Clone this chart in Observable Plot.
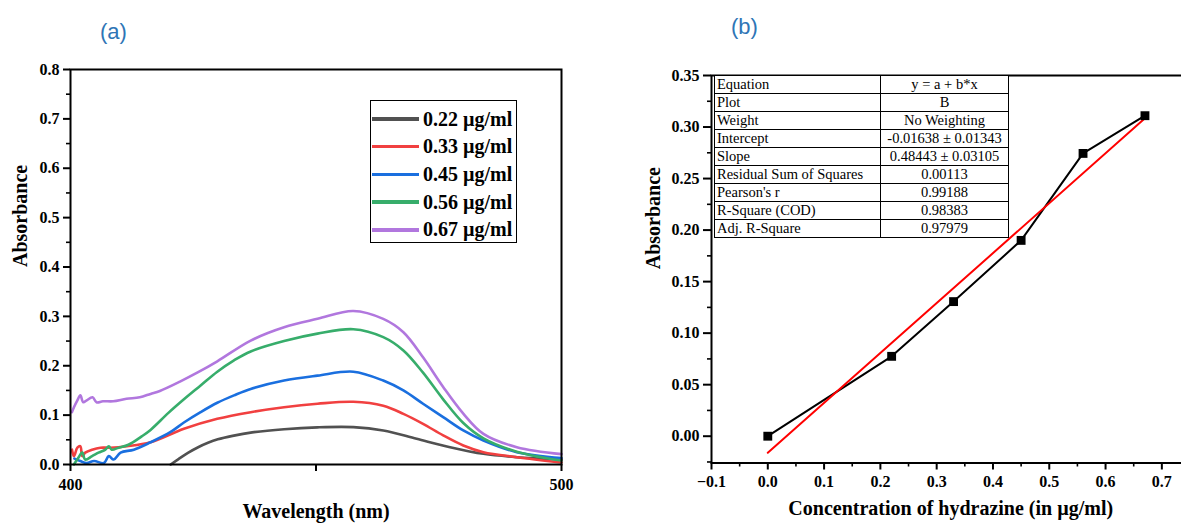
<!DOCTYPE html>
<html>
<head>
<meta charset="utf-8">
<script src="https://cdn.jsdelivr.net/npm/d3@7"></script>
<script src="https://cdn.jsdelivr.net/npm/@observablehq/plot@0.6"></script>
<style>
  html, body { margin: 0; padding: 0; background: #fff; }
  #wrap { position: relative; width: 1181px; height: 527px; overflow: hidden; background: #fff; }
  .plot { position: absolute; top: 0; }
  .plot text { font-family: "Liberation Serif", "Times New Roman", serif; }
  .tag { position: absolute; font-family: "Liberation Sans", "Open Sans", sans-serif; font-size: 22px; color: #2E75B6; line-height: 1; }
  #legend { position: absolute; left: 370px; top: 100px; width: 147px; height: 143px; border: 1.5px solid #000; box-sizing: border-box; background: #fff; }
  .lrow { position: absolute; left: 1px; height: 24px; display: flex; align-items: center; }
  .lline { width: 47px; height: 3.5px; margin-right: 4px; }
  .ltext { font-family: "Liberation Serif", serif; font-weight: bold; font-size: 20px; white-space: nowrap; }
  #fit { position: absolute; left: 714px; top: 75px; border-collapse: collapse; font-family: "Liberation Serif", serif; font-size: 14.5px; background: #fff; }
  #fit td { border: 1px solid #000; height: 17px; line-height: 15px; padding: 0 2px; white-space: nowrap; }
  #fit td.k { width: 161px; text-align: left; }
  #fit td.v { width: 123px; text-align: center; }
</style>
</head>
<body>
<div id="wrap"></div>
<script>
// ---------- panel (a): UV-Vis spectra ----------
const seriesLabels = ["0.22 µg/ml", "0.33 µg/ml", "0.45 µg/ml", "0.56 µg/ml", "0.67 µg/ml"];
const seriesColors = ["#515151", "#F14040", "#1A6FDF", "#37AD6B", "#B177DE"];

const grayWl  = [420.4, 422.0, 424.0, 426.0, 428.0, 430.0, 433.0, 437.0, 443.5, 450.3, 457.6, 463.7, 470.5, 477.3, 484.1, 490.9, 500];
const grayAbs = [0.000, 0.011, 0.024, 0.035, 0.044, 0.051, 0.058, 0.065, 0.0715, 0.0752, 0.0756, 0.0689, 0.052, 0.0351, 0.0216, 0.0148, 0.010];

const redWl  = [400.3, 400.7, 401.4, 402.0, 402.4, 403.0, 404.4, 406.1, 408.1, 411.5, 416.3, 423.1, 429.9, 436.7, 443.5, 450.3, 457.6, 463.7, 467.8, 471.8, 475.9, 480.0, 484.1, 490.9, 500];
const redAbs = [0.030, 0.017, 0.034, 0.037, 0.017, 0.024, 0.030, 0.034, 0.034, 0.037, 0.045, 0.0722, 0.0925, 0.106, 0.116, 0.123, 0.127, 0.119, 0.1026, 0.0824, 0.059, 0.0385, 0.025, 0.0148, 0.004];

const blueWl  = [400.8, 402.0, 403.3, 404.8, 406.8, 407.8, 408.8, 410.2, 412.9, 416.3, 420.4, 423.1, 426.5, 429.9, 433.3, 436.7, 443.5, 450.3, 457.6, 463.7, 467.8, 471.8, 475.9, 480.0, 484.1, 490.9, 500];
const blueAbs = [0.012, 0.007, 0.003, 0.007, 0.003, 0.017, 0.010, 0.024, 0.030, 0.045, 0.066, 0.085, 0.106, 0.125, 0.140, 0.153, 0.170, 0.180, 0.188, 0.170, 0.150, 0.123, 0.0959, 0.0689, 0.0486, 0.025, 0.013];

const greenWl  = [400.7, 401.5, 402.4, 403.0, 404.4, 405.7, 407.1, 407.8, 408.4, 409.8, 411.8, 414.5, 416.3, 420.0, 423.1, 426.5, 429.9, 433.3, 436.7, 443.5, 450.3, 457.6, 463.7, 467.8, 471.8, 475.9, 480.0, 484.1, 490.9, 500];
const greenAbs = [0.000, 0.012, 0.024, 0.010, 0.017, 0.024, 0.030, 0.037, 0.030, 0.034, 0.040, 0.057, 0.070, 0.105, 0.132, 0.160, 0.188, 0.211, 0.229, 0.250, 0.265, 0.274, 0.258, 0.231, 0.186, 0.132, 0.084, 0.053, 0.026, 0.008];

const purpleWl  = [400.3, 400.7, 401.4, 402.0, 402.6, 403.3, 404.5, 405.3, 406.6, 408.7, 411.4, 414.1, 416.3, 418.2, 422.3, 426.0, 429.9, 436.7, 443.5, 450.3, 457.6, 463.7, 467.8, 471.8, 475.9, 480.0, 484.1, 490.9, 500];
const purpleAbs = [0.106, 0.116, 0.130, 0.140, 0.126, 0.130, 0.136, 0.126, 0.128, 0.128, 0.133, 0.136, 0.143, 0.149, 0.168, 0.187, 0.209, 0.251, 0.278, 0.295, 0.311, 0.295, 0.268, 0.217, 0.157, 0.103, 0.062, 0.035, 0.021];

const spectraX = [grayWl, redWl, blueWl, greenWl, purpleWl];
const spectraY = [grayAbs, redAbs, blueAbs, greenAbs, purpleAbs];

const aYTicks = [0, 0.1, 0.2, 0.3, 0.4, 0.5, 0.6, 0.7, 0.8];
const aYMinor = [0.05, 0.15, 0.25, 0.35, 0.45, 0.55, 0.65, 0.75];
const aXTicks = [400, 450, 500];
const aXLabeled = [400, 500];

// ---------- panel (b): calibration ----------
const concentration = [0, 0.22, 0.33, 0.45, 0.56, 0.67];
const absorbance    = [0.000, 0.0775, 0.1306, 0.190, 0.2744, 0.311];
const bXTicks = [-0.1, 0, 0.1, 0.2, 0.3, 0.4, 0.5, 0.6, 0.7];
const bXMinor = [-0.05, 0.05, 0.15, 0.25, 0.35, 0.45, 0.55, 0.65, 0.75];
const bYTicks = [0, 0.05, 0.10, 0.15, 0.20, 0.25, 0.30, 0.35];
const bYMinor = [-0.025, 0.025, 0.075, 0.125, 0.175, 0.225, 0.275, 0.325];

const tableKeys = ["Equation", "Plot", "Weight", "Intercept", "Slope", "Residual Sum of Squares", "Pearson's r", "R-Square (COD)", "Adj. R-Square"];
const tableValues = ["y = a + b*x", "B", "No Weighting", "-0.01638 ± 0.01343", "0.48443 ± 0.03105", "0.00113", "0.99188", "0.98383", "0.97979"];

// ---------- build ----------
const spectra = [];
seriesLabels.forEach((s, i) => {
  spectraX[i].forEach((w, j) => spectra.push({series: s, wl: w, abs: spectraY[i][j]}));
});
const calib = concentration.map((c, i) => ({c, a: absorbance[i]}));

const SERIF = "'Liberation Serif', 'Times New Roman', serif";
const baseStyle = {fontFamily: SERIF, fontSize: "16px", fontWeight: "bold", color: "#000", background: "transparent", overflow: "visible"};
const tickText = {fontFamily: SERIF, fontSize: 16, fontWeight: "bold"};

const plotA = Plot.plot({
  width: 590, height: 527,
  marginLeft: 70, marginRight: 29, marginTop: 69, marginBottom: 63,
  style: baseStyle,
  x: {domain: [400, 500]},
  y: {domain: [0, 0.8]},
  color: {domain: seriesLabels, range: seriesColors},
  marks: [
    Plot.line(spectra, {x: "wl", y: "abs", z: "series", stroke: "series", strokeWidth: 2.6, curve: "catmull-rom"}),
    Plot.axisY(aYMinor, {tickSize: 4, tickFormat: () => "", strokeWidth: 1.6, label: null}),
    Plot.axisY(aYTicks, {tickSize: 7, tickPadding: 4, strokeWidth: 2, tickFormat: d => d.toFixed(1), label: null, ...tickText}),
    Plot.axisX(aXTicks, {tickSize: 7, tickPadding: 7, strokeWidth: 2, tickFormat: d => aXLabeled.includes(d) ? String(d) : "", label: null, ...tickText}),
    Plot.frame({strokeWidth: 2}),
    Plot.text(["Absorbance"], {frameAnchor: "left", dx: -50, rotate: -90, fontSize: 20, fontWeight: "bold", fontFamily: SERIF}),
    Plot.text(["Wavelength (nm)"], {frameAnchor: "bottom", dy: 53, fontSize: 20, fontWeight: "bold", fontFamily: SERIF})
  ]
});

const fmtX = d => (d < 0 ? "\u2212" : "") + Math.abs(d).toFixed(1);

const plotB = Plot.plot({
  width: 600, height: 527,
  marginLeft: 111, marginRight: 10.5, marginTop: 75, marginBottom: 64.5,
  style: baseStyle,
  x: {domain: [-0.1, 0.75]},
  y: {domain: [-0.026, 0.35]},
  marks: [
    Plot.line(calib, {x: "c", y: "a", stroke: "#000", strokeWidth: 2}),
    Plot.linearRegressionY(calib, {x: "c", y: "a", ci: 0, stroke: "#ff0000", strokeWidth: 2}),
    Plot.dot(calib, {x: "c", y: "a", symbol: "square", fill: "#000", r: 5}),
    Plot.axisY(bYMinor, {tickSize: 4, tickFormat: () => "", strokeWidth: 1.6, label: null}),
    Plot.axisY(bYTicks, {tickSize: 8, tickPadding: 4, strokeWidth: 2, tickFormat: d => d.toFixed(2), label: null, ...tickText}),
    Plot.axisX(bXMinor, {tickSize: 4, tickFormat: () => "", strokeWidth: 1.6, label: null}),
    Plot.axisX(bXTicks, {tickSize: 7, tickPadding: 6, strokeWidth: 2, tickFormat: fmtX, label: null, ...tickText}),
    Plot.frame({strokeWidth: 2}),
    Plot.text(["Absorbance"], {frameAnchor: "left", dx: -58, rotate: -90, fontSize: 20, fontWeight: "bold", fontFamily: SERIF}),
    Plot.text(["Concentration of hydrazine (in µg/ml)"], {frameAnchor: "bottom", dy: 52, fontSize: 20, fontWeight: "bold", fontFamily: SERIF})
  ]
});

const wrap = document.getElementById("wrap");
plotA.classList.add("plot"); plotA.style.left = "0px";
plotB.classList.add("plot"); plotB.style.left = "600px";
wrap.appendChild(plotA);
wrap.appendChild(plotB);

// panel tags
[["(a)", 100, 21], ["(b)", 731, 16]].forEach(([t, l, tp]) => {
  const d = document.createElement("div");
  d.className = "tag"; d.textContent = t; d.style.left = l + "px"; d.style.top = tp + "px";
  wrap.appendChild(d);
});

// legend
const leg = document.createElement("div");
leg.id = "legend";
seriesLabels.forEach((s, i) => {
  const r = document.createElement("div");
  r.className = "lrow";
  r.style.top = (6 + i * 27.7) + "px";
  const ln = document.createElement("div");
  ln.className = "lline"; ln.style.background = seriesColors[i];
  const tx = document.createElement("span");
  tx.className = "ltext"; tx.textContent = s;
  r.appendChild(ln); r.appendChild(tx);
  leg.appendChild(r);
});
wrap.appendChild(leg);

// fit table
const tbl = document.createElement("table");
tbl.id = "fit";
tableKeys.forEach((k, i) => {
  const tr = document.createElement("tr");
  const a = document.createElement("td"); a.className = "k"; a.textContent = k;
  const b = document.createElement("td"); b.className = "v"; b.textContent = tableValues[i];
  tr.appendChild(a); tr.appendChild(b);
  tbl.appendChild(tr);
});
wrap.appendChild(tbl);
</script>
</body>
</html>
